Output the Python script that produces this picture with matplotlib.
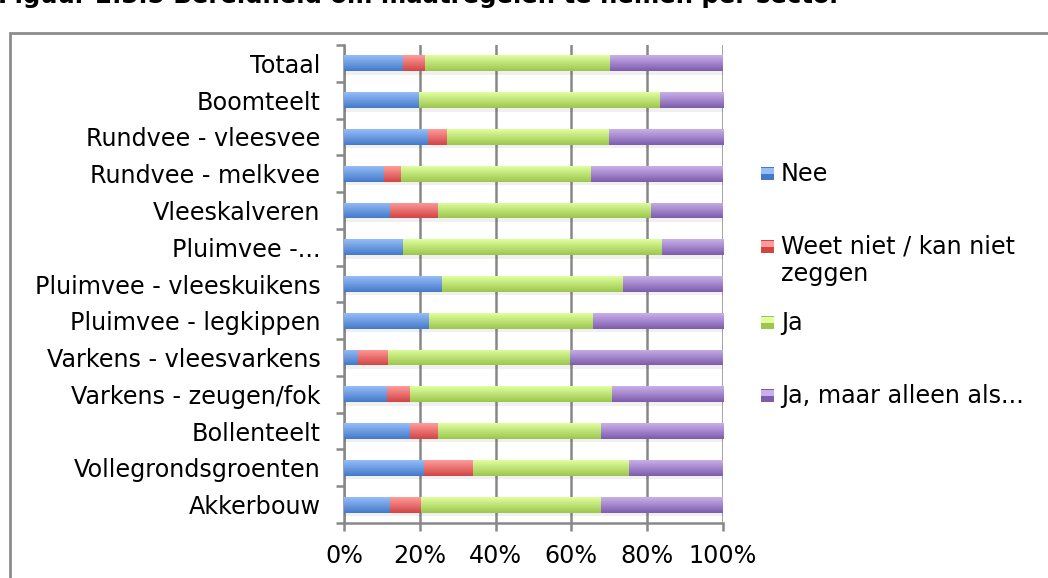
import matplotlib
matplotlib.use("Agg")
import matplotlib.pyplot as plt
import numpy as np
from matplotlib.colors import LinearSegmentedColormap
from matplotlib.patches import Rectangle
import matplotlib.patheffects as pe

# sectors, bottom to top
sectors = ["Akkerbouw", "Vollegrondsgroenten", "Bollenteelt", "Varkens - zeugen/fok",
           "Varkens - vleesvarkens", "Pluimvee - legkippen", "Pluimvee - vleeskuikens",
           "Pluimvee -...", "Vleeskalveren", "Rundvee - melkvee", "Rundvee - vleesvee",
           "Boomteelt", "Totaal"]

# percentages per answer (same order as sectors)
nee = [12.2, 21.1, 17.4, 11.4, 3.7, 22.5, 25.9, 15.6, 12.2, 10.6, 22.2, 19.8, 15.5]
weet_niet = [8.2, 13.0, 7.4, 6.0, 7.9, 0.0, 0.0, 0.0, 12.6, 4.5, 5.0, 0.0, 5.9]
ja = [47.5, 41.2, 42.9, 53.2, 48.1, 43.1, 47.8, 68.2, 56.3, 50.2, 42.6, 63.5, 48.9]
ja_maar = [32.1, 24.7, 32.3, 29.4, 40.3, 34.4, 26.3, 16.2, 18.9, 34.7, 30.2, 16.7, 29.7]

series = [("Nee", nee), ("Weet niet / kan niet\nzeggen", weet_niet),
          ("Ja", ja), ("Ja, maar alleen als...", ja_maar)]
# (light top, dark bottom) per series
colors = [("#95bdf7", "#4479c9"), ("#ff9c9a", "#d24545"),
          ("#e0ff9e", "#9cc64e"), ("#c9b0ea", "#7d5cac")]

FS = 17.2
W, H = 1048, 578
fig = plt.figure(figsize=(W / 100, H / 100), dpi=100)
fig.patch.set_facecolor("white")

# outer chart frame
fig.patches.append(Rectangle((10 / W, -0.1), 1.2, (H - 33) / H + 0.1, transform=fig.transFigure,
                             fill=False, edgecolor="#8c8c8c", linewidth=2))

fig.text(-2 / W, 1 - 3 / H, "Figuur 2.3.5 Bereidheid om maatregelen te nemen per sector",
         fontsize=17.6, fontweight="bold", family="DejaVu Sans", va="baseline", ha="left")

ax = fig.add_axes([344 / W, 1 - 523 / H, 379 / W, 478 / H])

y = np.arange(len(sectors))
bar_h = 0.43
left = np.zeros(len(sectors))
for (label, vals), (c_top, c_bot) in zip(series, colors):
    vals = np.array(vals)
    bars = ax.barh(y, vals, left=left, height=bar_h, color=c_bot, zorder=3,
                   path_effects=[pe.SimplePatchShadow(offset=(0, -2.5), shadow_rgbFace="#000000", alpha=0.06),
                                 pe.Normal()])
    cmap = LinearSegmentedColormap.from_list(label, [c_bot, c_top])
    grad = np.linspace(0, 1, 64).reshape(-1, 1)
    for b in bars:
        if b.get_width() <= 0:
            continue
        x0, y0 = b.get_x(), b.get_y()
        im = ax.imshow(grad, extent=[x0, x0 + b.get_width(), y0, y0 + b.get_height()],
                       origin="lower", cmap=cmap, aspect="auto", zorder=4, interpolation="bilinear")
        im.set_clip_path(b)
    left = left + vals

ax.set_xlim(0, 100)
ax.set_ylim(-0.5, len(sectors) - 0.5)
ax.set_xticks([0, 20, 40, 60, 80, 100])
ax.set_xticklabels([f"{v}%" for v in [0, 20, 40, 60, 80, 100]])
ax.set_yticks(y)
ax.set_yticklabels(sectors)
ax.set_yticks(np.arange(-0.5, len(sectors), 1), minor=True)

ax.grid(axis="x", color="#888888", linewidth=1.8, zorder=1)
ax.set_axisbelow(True)
for s in ["top", "right"]:
    ax.spines[s].set_visible(False)
for s in ["left", "bottom"]:
    ax.spines[s].set_color("#888888")
    ax.spines[s].set_linewidth(1.8)

ax.tick_params(axis="y", which="major", length=0, pad=17, labelsize=FS)
ax.tick_params(axis="y", which="minor", length=6, width=1.8, color="#888888")
ax.tick_params(axis="x", length=6, width=1.8, color="#888888", pad=9, labelsize=FS)

# legend drawn by hand, Excel-like spacing
leg_y = [174, 247, 323, 396]
for (label, _), (c_top, c_bot), ly in zip(series, colors, leg_y):
    fig.patches.append(Rectangle((761 / W, 1 - (ly + 6) / H), 13 / W, 13 / H,
                                 transform=fig.transFigure, facecolor=c_bot, edgecolor="none"))
    fig.patches.append(Rectangle((761 / W, 1 - ly / H), 13 / W, 6 / H,
                                 transform=fig.transFigure, facecolor=c_top, edgecolor="none"))
    fig.text(781 / W, 1 - (ly - 12) / H, label, fontsize=FS, va="top", ha="left",
             linespacing=1.15)

fig.savefig("out.png", dpi=100)
